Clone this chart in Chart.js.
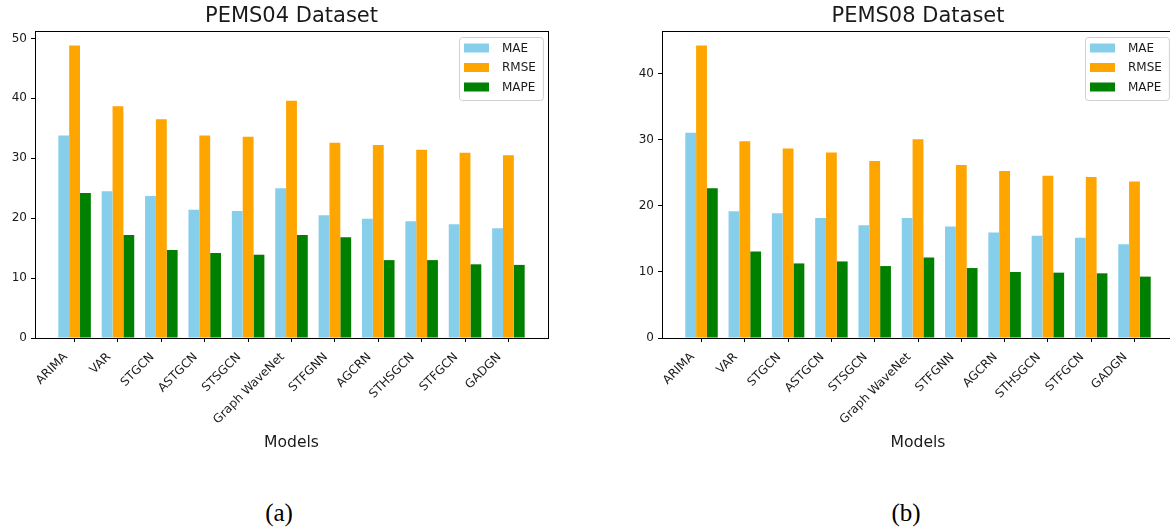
<!DOCTYPE html>
<html><head><meta charset="utf-8">
<script src="https://cdn.jsdelivr.net/npm/chart.js@4/dist/chart.umd.min.js"></script>
<style>
html,body{margin:0;padding:0;background:#fff;overflow:hidden;width:1170px;height:531px;}
.wrap{position:absolute;top:0;}
.cap{position:absolute;font-family:"Liberation Serif","DejaVu Serif",serif;font-size:25px;color:#000;transform:translate(-50%,-50%);white-space:nowrap;}
</style></head><body>
<div class="wrap" style="left:0"><canvas id="c1" width="560" height="470"></canvas></div>
<div class="wrap" style="left:620px"><canvas id="c2" width="566" height="470"></canvas></div>
<div class="cap" style="left:279px;top:513px">(a)</div>
<div class="cap" style="left:906px;top:513px">(b)</div>
<script>
const models = ['ARIMA','VAR','STGCN','ASTGCN','STSGCN','Graph WaveNet','STFGNN','AGCRN','STHSGCN','STFGCN','GADGN'];
const seriesNames = ['MAE','RMSE','MAPE'];
const seriesColors = ['#87CEEB','#FFA500','#008000'];

const pems04MAE  = [33.8, 24.5, 23.7, 21.4, 21.2, 25.0, 20.5, 19.9, 19.5, 19.0, 18.3];
const pems04RMSE = [48.8, 38.7, 36.5, 33.8, 33.6, 39.6, 32.6, 32.2, 31.4, 30.9, 30.5];
const pems04MAPE = [24.2, 17.2, 14.7, 14.2, 13.9, 17.2, 16.8, 13.0, 13.0, 12.3, 12.2];

const pems08MAE  = [31.1, 19.2, 18.9, 18.2, 17.1, 18.2, 16.9, 16.0, 15.5, 15.2, 14.2];
const pems08RMSE = [44.3, 29.8, 28.7, 28.1, 26.8, 30.1, 26.2, 25.3, 24.6, 24.4, 23.7];
const pems08MAPE = [22.7, 13.1, 11.3, 11.6, 10.9, 12.2, 10.6, 10.0,  9.9,  9.8,  9.3];

const pems04YTicks = [0, 10, 20, 30, 40, 50];
const pems08YTicks = [0, 10, 20, 30, 40];

const FONT = 'DejaVu Sans';
const TXT = '#1a1a1a';

const framePlugin = {
  id: 'frame',
  afterDatasetsDraw(chart) {
    const a = chart.chartArea, ctx = chart.ctx;
    ctx.save();
    ctx.strokeStyle = '#000';
    ctx.lineWidth = 1;
    ctx.strokeRect(Math.round(a.left) + 0.5, Math.round(a.top) + 0.5,
                   Math.round(a.right) - Math.round(a.left), Math.round(a.bottom) - Math.round(a.top));
    ctx.restore();
  }
};

const boxLegend = {
  id: 'boxLegend',
  afterDraw(chart) {
    const ctx = chart.ctx, a = chart.chartArea;
    const ds = chart.data.datasets;
    ctx.save();
    ctx.font = '12px "' + FONT + '"';
    const tw = Math.max(...ds.map(d => ctx.measureText(d.label).width));
    const w = 43 + tw + 7, h = 63;
    const x = Math.round(a.right - 5 - w), y = Math.round(a.top + 6);
    ctx.beginPath();
    if (ctx.roundRect) ctx.roundRect(x + 0.5, y + 0.5, w, h, 3); else ctx.rect(x + 0.5, y + 0.5, w, h);
    ctx.fillStyle = 'rgba(255,255,255,0.8)';
    ctx.fill();
    ctx.strokeStyle = '#d0d0d0';
    ctx.lineWidth = 1;
    ctx.stroke();
    ds.forEach((d, i) => {
      const cy = y + 11 + i * 19.5;
      ctx.fillStyle = d.backgroundColor;
      ctx.fillRect(x + 5, cy - 4.5, 25, 9);
      ctx.fillStyle = TXT;
      ctx.textBaseline = 'middle';
      ctx.textAlign = 'left';
      ctx.fillText(d.label, x + 43, cy + 0.5);
    });
    ctx.restore();
  }
};

function makeChart(id, title, series, yTicks, yWidth) {
  const n = models.length;
  const half = 0.375, span = (n - 1) + 2 * half;
  const xMin = -half - 0.05 * span, xMax = (n - 1) + half + 0.05 * span;
  const yMax = Math.max(...series.flat()) * 1.05;
  return new Chart(document.getElementById(id), {
    type: 'bar',
    data: {
      datasets: series.map((vals, k) => ({
        label: seriesNames[k],
        data: vals.map((v, i) => ({ x: i, y: v })),
        backgroundColor: seriesColors[k],
        borderWidth: 0,
        categoryPercentage: 0.75,
        barPercentage: 1.0
      }))
    },
    options: {
      responsive: false,
      animation: false,
      devicePixelRatio: 1,
      layout: { padding: { left: 0, right: 12, top: 0, bottom: 0 } },
      plugins: {
        legend: { display: false },
        tooltip: { enabled: false },
        title: {
          display: true, text: title, fullSize: false,
          font: { family: FONT, size: 21, weight: 'normal' }, color: TXT,
          padding: { top: 3.5, bottom: 2.3 }
        }
      },
      scales: {
        x: {
          type: 'linear', min: xMin, max: xMax, offset: false,
          afterBuildTicks: s => { s.ticks = models.map((m, i) => ({ value: i })); },
          afterFit: s => { s.height = 132; },
          grid: { display: true, offset: false, drawOnChartArea: false, drawTicks: true, tickLength: 4, color: '#000', tickColor: '#000' },
          border: { display: false },
          ticks: {
            autoSkip: false, minRotation: 45, maxRotation: 45, labelOffset: -9, padding: 8,
            font: { family: FONT, size: 12 }, color: TXT,
            callback: v => models[v]
          },
          title: { display: true, text: 'Models', font: { family: FONT, size: 15.6 }, color: TXT, padding: { top: 4, bottom: 18 } }
        },
        y: {
          min: 0, max: yMax,
          afterBuildTicks: s => { s.ticks = yTicks.map(v => ({ value: v })); },
          afterFit: s => { s.width = yWidth; },
          grid: { display: true, drawOnChartArea: false, drawTicks: true, tickLength: 4, color: '#000', tickColor: '#000' },
          border: { display: false },
          ticks: { font: { family: FONT, size: 12 }, color: TXT, padding: 4 }
        }
      }
    },
    plugins: [framePlugin, boxLegend]
  });
}

makeChart('c1', 'PEMS04 Dataset', [pems04MAE, pems04RMSE, pems04MAPE], pems04YTicks, 35);
makeChart('c2', 'PEMS08 Dataset', [pems08MAE, pems08RMSE, pems08MAPE], pems08YTicks, 42);
</script>
</body></html>
